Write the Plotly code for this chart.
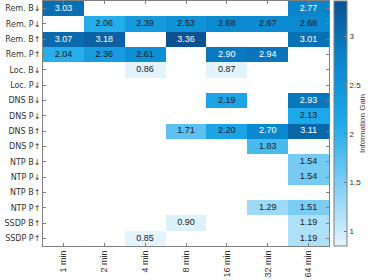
import plotly.graph_objects as go

columns = ["1 min", "2 min", "4 min", "8 min", "16 min", "32 min", "64 min"]
rows = ["Rem. B↓", "Rem. P↓", "Rem. B↑", "Rem. P↑", "Loc. B↓", "Loc. P↓",
        "DNS B↓", "DNS P↓", "DNS B↑", "DNS P↑", "NTP B↓", "NTP P↓",
        "NTP B↑", "NTP P↑", "SSDP B↑", "SSDP P↑"]
N = None
gain = [
    [3.03, N, N, N, N, N, 2.77],
    [N, 2.06, 2.39, 2.53, 2.68, 2.67, 2.68],
    [3.07, 3.18, N, 3.36, N, N, 3.01],
    [2.04, 2.36, 2.61, N, 2.90, 2.94, N],
    [N, N, 0.86, N, 0.87, N, N],
    [N, N, N, N, N, N, N],
    [N, N, N, N, 2.19, N, 2.93],
    [N, N, N, N, N, N, 2.13],
    [N, N, N, 1.71, 2.20, 2.70, 3.11],
    [N, N, N, N, N, 1.83, N],
    [N, N, N, N, N, N, 1.54],
    [N, N, N, N, N, N, 1.54],
    [N, N, N, N, N, N, N],
    [N, N, N, N, N, 1.29, 1.51],
    [N, N, N, 0.90, N, N, 1.19],
    [N, N, 0.85, N, N, N, 1.19],
]
colorbar_ticks = [1, 1.5, 2, 2.5, 3]

scale = [[0.0, "#e4f4fc"], [0.25, "#80cff4"], [0.5, "#1eaaea"],
         [0.75, "#0a87cf"], [1.0, "#0a5292"]]

fig = go.Figure()
fig.add_trace(go.Heatmap(
    x=columns, y=rows, z=gain, colorscale=scale, zmin=0.85, zmax=3.36,
    hoverongaps=False,
    colorbar=dict(
        thickness=13, len=1, lenmode="fraction", y=0.5, yanchor="middle",
        x=1.017, xanchor="left", xpad=0, ypad=0,
        outlinecolor="#7f7f7f", outlinewidth=1,
        tickvals=colorbar_ticks, ticktext=["1", "1.5", "2", "2.5", "3"],
        ticks="inside", ticklen=3, tickcolor="#7f7f7f",
        tickfont=dict(size=8, color="#333"),
        title=dict(text="Information Gain", side="right",
                   font=dict(size=8, color="#333")),
    ),
))

wx, wy, wt, bx, by, bt = [], [], [], [], [], []
for i, r in enumerate(rows):
    for j, c in enumerate(columns):
        v = gain[i][j]
        if v is None:
            continue
        if v >= 2.69:
            wx.append(c); wy.append(r); wt.append(f"{v:.2f}")
        else:
            bx.append(c); by.append(r); bt.append(f"{v:.2f}")

fig.add_trace(go.Scatter(x=wx, y=wy, text=wt, mode="text", hoverinfo="skip",
                         textfont=dict(size=9, color="white"), showlegend=False))
fig.add_trace(go.Scatter(x=bx, y=by, text=bt, mode="text", hoverinfo="skip",
                         textfont=dict(size=9, color="#1a1a1a"), showlegend=False))

axis_common = dict(showline=True, linecolor="#7f7f7f", linewidth=1,
                   ticks="inside", ticklen=3, tickcolor="#7f7f7f",
                   mirror="ticks", showgrid=False, zeroline=False,
                   automargin=False)
fig.update_xaxes(categoryorder="array", categoryarray=columns, tickangle=-90,
                 range=[-0.5, 6.5],
                 tickfont=dict(size=9, color="#333",
                               family="Liberation Sans, Arial, sans-serif"),
                 **axis_common)
fig.update_yaxes(categoryorder="array", categoryarray=rows,
                 range=[15.5, -0.5],
                 tickfont=dict(size=8, color="#333",
                               family="DejaVu Sans, sans-serif"),
                 **axis_common)
fig.update_layout(
    template="none",
    width=374, height=280,
    margin=dict(l=43, r=45, t=1, b=34, autoexpand=False),
    paper_bgcolor="white", plot_bgcolor="white",
    font=dict(family="Liberation Sans, Arial, sans-serif", size=9, color="#333"),
    showlegend=False,
)
fig.write_html("out.html", config={"displayModeBar": False},
               post_script="document.body.style.margin='0';document.body.style.padding='0';")
